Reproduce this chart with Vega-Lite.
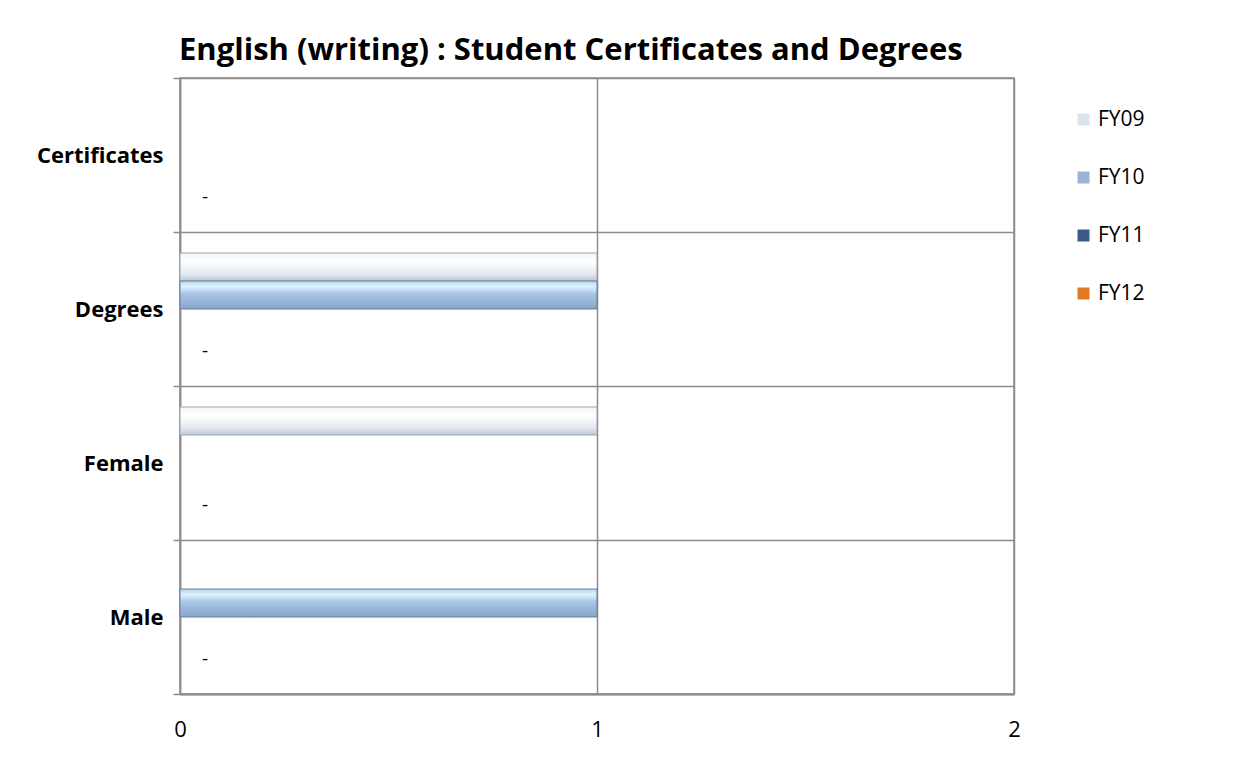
{
  "$schema": "https://vega.github.io/schema/vega-lite/v6.json",
  "width": 834,
  "height": 616,
  "autosize": {"type": "none"},
  "padding": {"left": 180, "top": 78, "right": 234, "bottom": 72},
  "background": "white",
  "title": {
    "text": "English (writing) : Student Certificates and Degrees",
    "anchor": "start",
    "frame": "group",
    "dx": -1,
    "offset": 0,
    "fontSize": 31,
    "font": "Open Sans",
    "fontWeight": "bold",
    "color": "#000000"
  },
  "config": {
    "view": {"stroke": "#8c8c8c", "strokeWidth": 1.5},
    "font": "Open Sans"
  },
  "data": {
    "values": [
      {"category": "Certificates", "series": "FY09", "value": 0},
      {"category": "Certificates", "series": "FY10", "value": 0},
      {"category": "Certificates", "series": "FY11", "value": 0},
      {"category": "Certificates", "series": "FY12", "value": 0},
      {"category": "Degrees", "series": "FY09", "value": 1},
      {"category": "Degrees", "series": "FY10", "value": 1},
      {"category": "Degrees", "series": "FY11", "value": 0},
      {"category": "Degrees", "series": "FY12", "value": 0},
      {"category": "Female", "series": "FY09", "value": 1},
      {"category": "Female", "series": "FY10", "value": 0},
      {"category": "Female", "series": "FY11", "value": 0},
      {"category": "Female", "series": "FY12", "value": 0},
      {"category": "Male", "series": "FY09", "value": 0},
      {"category": "Male", "series": "FY10", "value": 1},
      {"category": "Male", "series": "FY11", "value": 0},
      {"category": "Male", "series": "FY12", "value": 0}
    ]
  },
  "encoding": {
    "y": {
      "field": "category",
      "type": "nominal",
      "sort": ["Certificates", "Degrees", "Female", "Male"],
      "scale": {"paddingInner": 0, "paddingOuter": 0},
      "axis": {
        "title": null,
        "tickBand": "extent",
        "grid": true,
        "gridColor": "#8c8c8c",
        "gridWidth": 1.5,
        "gridOpacity": 1,
        "domainColor": "#8c8c8c",
        "domainWidth": 1.5,
        "tickColor": "#8c8c8c",
        "tickWidth": 1.5,
        "tickSize": 7,
        "labelPadding": 10,
        "labelFontSize": 22,
        "labelFontWeight": "bold",
        "labelColor": "#000000",
        "labelFont": "Open Sans"
      }
    },
    "yOffset": {
      "field": "series",
      "type": "nominal",
      "scale": {"domain": ["FY09", "FY10", "FY11", "FY12"], "paddingInner": 0, "paddingOuter": 0.75}
    },
    "x": {
      "field": "value",
      "type": "quantitative",
      "scale": {"domain": [0, 2], "nice": false},
      "axis": {
        "title": null,
        "tickCount": 2,
        "format": "d",
        "grid": true,
        "gridColor": "#8c8c8c",
        "gridWidth": 1.5,
        "gridOpacity": 1,
        "ticks": false,
        "labelFlush": false,
        "labelOverlap": false,
        "domainColor": "#8c8c8c",
        "domainWidth": 2,
        "labelPadding": 25,
        "labelFontSize": 22,
        "labelColor": "#000000",
        "labelFont": "Open Sans"
      }
    }
  },
  "layer": [
    {
      "mark": {"type": "bar", "opacity": 1},
      "encoding": {
        "color": {
          "field": "series",
          "type": "nominal",
          "scale": {"domain": ["FY09", "FY10", "FY11", "FY12"], "range": ["#dde3ea", "#9bb5d6", "#3b5a8c", "#e07a20"]},
          "legend": {
            "title": null,
            "orient": "none",
            "legendX": 893,
            "legendY": 31,
            "symbolType": "square",
            "symbolSize": 144,
            "symbolStrokeWidth": 0,
            "rowPadding": 36,
            "labelFontSize": 21,
            "labelColor": "#000000",
            "labelFont": "Open Sans",
            "labelOffset": 4,
            "labelExpr": "datum.label == 'FY09' || datum.label == 'FY10' ? ' ' + datum.label : datum.label"
          }
        }
      }
    },
    {
      "transform": [{"filter": "datum.series == 'FY09' && datum.value > 0"}],
      "mark": {
        "type": "bar",
        "stroke": "#9ea6b2",
        "strokeWidth": 1,
        "color": {
          "gradient": "linear", "x1": 0, "y1": 0, "x2": 0, "y2": 1,
          "stops": [
            {"offset": 0, "color": "#f1f4f7"},
            {"offset": 0.3, "color": "#ffffff"},
            {"offset": 0.75, "color": "#e3e9f1"},
            {"offset": 1, "color": "#bcc6d3"}
          ]
        }
      }
    },
    {
      "transform": [{"filter": "datum.series == 'FY10' && datum.value > 0"}],
      "mark": {
        "type": "bar",
        "stroke": "#6c7f99",
        "strokeWidth": 1,
        "color": {
          "gradient": "linear", "x1": 0, "y1": 0, "x2": 0, "y2": 1,
          "stops": [
            {"offset": 0, "color": "#b5d3f0"},
            {"offset": 0.2, "color": "#dff3ff"},
            {"offset": 0.45, "color": "#aac6e6"},
            {"offset": 1, "color": "#87a4cb"}
          ]
        }
      }
    },
    {
      "transform": [{"filter": "datum.series == 'FY12'"}],
      "mark": {"type": "text", "align": "left", "dx": 22, "fontSize": 19, "color": "#000000", "font": "Open Sans"},
      "encoding": {
        "text": {"value": "-"}
      }
    }
  ]
}
